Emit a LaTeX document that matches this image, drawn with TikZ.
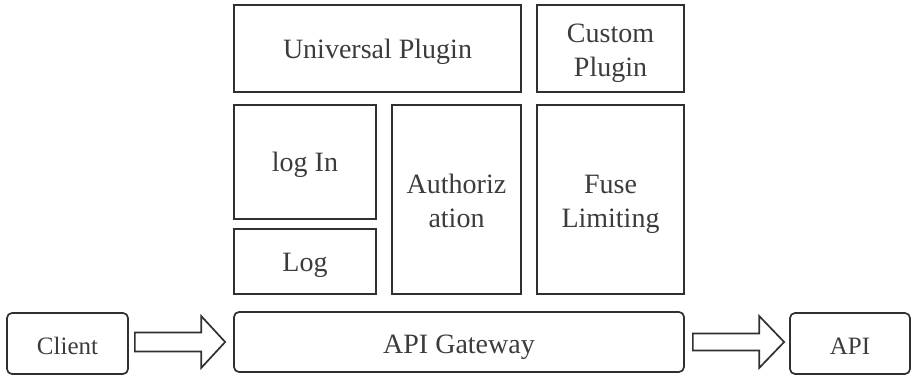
\documentclass[tikz,border=0pt]{standalone}
\usepackage{fontspec}
\setmainfont{Liberation Serif}
\usetikzlibrary{calc}
\definecolor{edge}{HTML}{303030}
\definecolor{txt}{HTML}{3C3C3C}
\newcommand{\lowtxt}[2][4pt]{\raisebox{-#1}[\height][\depth]{\begin{tabular}{@{}c@{}}#2\end{tabular}}}
\begin{document}
\begin{tikzpicture}[x=1pt,y=-1pt,
  box/.style={draw=edge,line width=1.7pt,fill=white,text=txt,inner sep=0pt,
    font=\fontsize{28}{28}\selectfont},
  rbox/.style={box,rounded corners=5pt},
  small/.style={font=\fontsize{25}{25}\selectfont},
  arr/.style={draw=edge,line width=1.7pt,fill=white,line join=miter}]
\useasboundingbox (0,0) rectangle (911,377);
\renewcommand{\arraystretch}{1.22}
\node[box,minimum width=287pt,minimum height=87pt] (up) at (377.5,48.5) {\lowtxt[3pt]{Universal Plugin}};
\node[box,minimum width=147pt,minimum height=87pt] (cp) at (610.5,48.5) {\lowtxt{Custom\\Plugin}};
\node[box,minimum width=142pt,minimum height=114pt] (login) at (305,162) {\lowtxt[3pt]{log In}};
\node[box,minimum width=142pt,minimum height=65pt] (log) at (305,261.5) {\lowtxt[3pt]{Log}};
\node[box,minimum width=129pt,minimum height=189pt] (auth) at (456.5,199.5) {\lowtxt{Authoriz\\ation}};
\node[box,minimum width=147pt,minimum height=189pt] (fuse) at (610.5,199.5) {\lowtxt{Fuse\\Limiting}};
\node[rbox,minimum width=450pt,minimum height=60pt] (gw) at (459,342) {\lowtxt[5pt]{API Gateway}};
\node[rbox,small,minimum width=121pt,minimum height=61pt] (client) at (67.5,343.5) {\lowtxt[5pt]{Client}};
\node[rbox,small,minimum width=120pt,minimum height=61pt] (api) at (850,343.5) {\lowtxt[5pt]{API}};
\draw[arr] let \p1=($(client.east)+(6pt,0)$), \p2=($(gw.west)+(-8pt,0)$) in
  (\x1,\y2+9.5pt) -- (\x2-24pt,\y2+9.5pt) -- (\x2-24pt,\y2+26pt) -- (\x2,\y2)
  -- (\x2-24pt,\y2-26pt) -- (\x2-24pt,\y2-9.5pt) -- (\x1,\y2-9.5pt) -- cycle;
\draw[arr] let \p1=($(gw.east)+(8pt,0)$), \p2=($(api.west)+(-5pt,0)$) in
  (\x1,\y1+8.5pt) -- (\x2-25pt,\y1+8.5pt) -- (\x2-25pt,\y1+26pt) -- (\x2,\y1)
  -- (\x2-25pt,\y1-26pt) -- (\x2-25pt,\y1-8.5pt) -- (\x1,\y1-8.5pt) -- cycle;
\end{tikzpicture}
\end{document}
